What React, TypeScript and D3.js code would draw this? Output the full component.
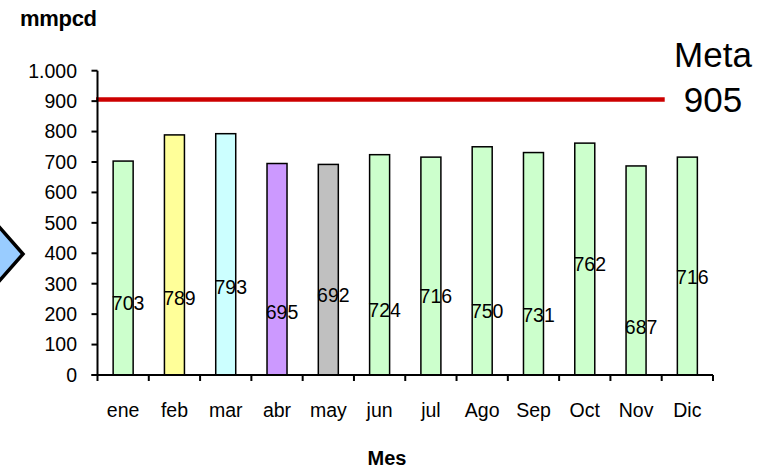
import React from "react";
import * as d3 from "d3";

const months = ["ene", "feb", "mar", "abr", "may", "jun", "jul", "Ago", "Sep", "Oct", "Nov", "Dic"];
const values = [703, 789, 793, 695, 692, 724, 716, 750, 731, 762, 687, 716];
const barColors = ["#CCFFCC", "#FFFF99", "#CCFFFF", "#CC99FF", "#C0C0C0", "#CCFFCC", "#CCFFCC", "#CCFFCC", "#CCFFCC", "#CCFFCC", "#CCFFCC", "#CCFFCC"];
// where each (manually placed) value label sits, in value-axis units
const labelAt = [237, 253, 289, 207, 263, 214, 260, 211, 197, 365, 158, 322];
const yTicks = [0, 100, 200, 300, 400, 500, 600, 700, 800, 900, 1000];
const goal = 905;

const W = 774;
const H = 472;
const font = "'Liberation Sans', Arial, Helvetica, sans-serif";

export default function App() {
  const x = d3.scaleBand<string>().domain(months).range([97.5, 713]).padding(0);
  const y = d3.scaleLinear().domain([0, 1000]).range([375, 70.7]);
  const bw = x.bandwidth() * 0.39;
  const fmt = (v: number) => (v >= 1000 ? d3.format(",")(v).replace(",", ".") : String(v));
  const x0 = x.range()[0];
  const x1 = x.range()[1];
  const lineEnd = (x("Dic") as number) + 3;

  const arrow = [
    [-100, 205],
    [-20, 205],
    [23, 254],
    [-20, 303],
    [-100, 303],
  ];

  return (
    <svg width={W} height={H} style={{ position: "absolute", left: 0, top: 0, background: "#fff" }} fontFamily={font}>
      <rect x={0} y={0} width={W} height={H} fill="#fff" />
      {/* left arrow shape */}
      <polygon points={arrow.map((p) => p.join(",")).join(" ")} fill="#99CCFF" stroke="#000" strokeWidth={3.5} strokeLinejoin="miter" />

      {/* y title */}
      <text x={20} y={26} fontSize={22} fontWeight="bold" fill="#000" letterSpacing={-0.3}>mmpcd</text>

      {/* bars */}
      {months.map((m, i) => {
        const cx = (x(m) as number) + x.bandwidth() / 2;
        return (
          <rect key={m} x={cx - bw / 2} y={y(values[i])} width={bw} height={y(0) - y(values[i])} fill={barColors[i]} stroke="#000" strokeWidth={1.5} />
        );
      })}

      {/* goal line */}
      <line x1={x0 - 1.5} x2={lineEnd} y1={y(goal)} y2={y(goal)} stroke="#CC0000" strokeWidth={4.5} />

      {/* y axis */}
      <line x1={x0} x2={x0} y1={y(1000)} y2={y(0)} stroke="#000" strokeWidth={2} />
      {yTicks.map((t) => (
        <g key={t}>
          <line x1={x0 - 6} x2={x0} y1={y(t)} y2={y(t)} stroke="#000" strokeWidth={2} />
          <text x={77} y={y(t)} dy="0.35em" textAnchor="end" fontSize={19.5} fill="#000">{fmt(t)}</text>
        </g>
      ))}

      {/* x axis */}
      <line x1={x0 - 6} x2={x1} y1={y(0)} y2={y(0)} stroke="#000" strokeWidth={2} />
      {[...months.map((m) => x(m) as number), x1].map((px, i) => (
        <line key={i} x1={px} x2={px} y1={y(0)} y2={y(0) + 6} stroke="#000" strokeWidth={2} />
      ))}
      {months.map((m) => (
        <text key={m} x={(x(m) as number) + x.bandwidth() / 2} y={417} textAnchor="middle" fontSize={19.5} fill="#000">{m}</text>
      ))}

      {/* value labels */}
      {months.map((m, i) => (
        <text key={m} x={(x(m) as number) + x.bandwidth() / 2 + 5} y={y(labelAt[i])} dy="0.35em" textAnchor="middle" fontSize={19.5} fill="#000">{values[i]}</text>
      ))}

      {/* goal text */}
      <text x={713} y={67} textAnchor="middle" fontSize={35} fill="#000">Meta</text>
      <text x={713} y={112} textAnchor="middle" fontSize={35} fill="#000">{goal}</text>

      {/* x title */}
      <text x={387} y={465} textAnchor="middle" fontSize={20} fontWeight="bold" fill="#000">Mes</text>
    </svg>
  );
}
